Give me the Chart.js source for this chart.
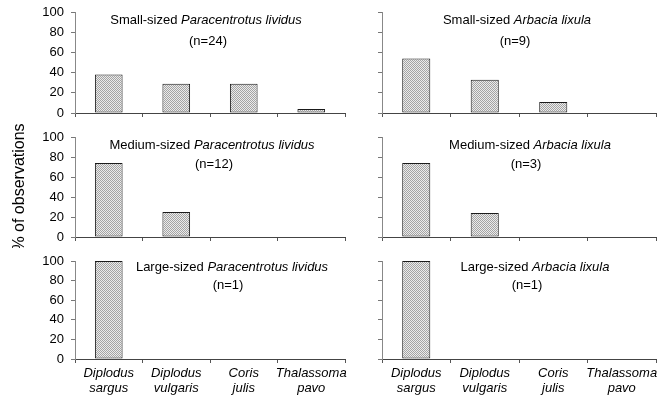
<!DOCTYPE html>
<html>
<head>
<meta charset="utf-8">
<script src="https://cdn.jsdelivr.net/npm/chart.js@4/dist/chart.umd.min.js"></script>
<style>
  html, body { margin: 0; padding: 0; background: #fff; }
  #wrap { position: relative; width: 666px; height: 401px; overflow: hidden; }
  canvas { position: absolute; }
</style>
</head>
<body>
<div id="wrap">
  <canvas id="c1"></canvas>
  <canvas id="c2"></canvas>
  <canvas id="c3"></canvas>
  <canvas id="c4"></canvas>
  <canvas id="c5"></canvas>
  <canvas id="c6"></canvas>
</div>
<script>
// 魚種（カテゴリ）
const categories = [['Diplodus', 'sargus'], ['Diplodus', 'vulgaris'], ['Coris', 'julis'], ['Thalassoma', 'pavo']];
const yTicks = [0, 20, 40, 60, 80, 100];

// 観察割合（%）
const smallParacentrotus = [38, 29, 29, 4];
const smallArbacia = [54, 33, 11, 0];
const mediumParacentrotus = [74, 25, 0, 0];
const mediumArbacia = [74, 24, 0, 0];
const largeParacentrotus = [100, 0, 0, 0];
const largeArbacia = [100, 0, 0, 0];

// ハッチング模様
function makePattern() {
    const p = document.createElement('canvas');
    p.width = 2; p.height = 2;
    const g = p.getContext('2d');
    g.fillStyle = '#ebebeb';
    g.fillRect(0, 0, 2, 2);
    g.fillStyle = '#a4a4a4';
    g.fillRect(0, 0, 1, 1);
    g.fillRect(1, 1, 1, 1);
    return g.createPattern(p, 'repeat');
}
const hatch = makePattern();

// パネルタイトル（斜体混在）
const panelTitle = {
    id: 'panelTitle',
    afterDraw(chart, args, opts) {
        const ctx = chart.ctx;
        const top = chart.chartArea.top;
        const normal = '13px "Liberation Sans", Arial, sans-serif';
        const italic = 'italic 13px "Liberation Sans", Arial, sans-serif';
        ctx.save();
        ctx.fillStyle = '#000';
        ctx.textBaseline = 'middle';
        ctx.textAlign = 'left';
        ctx.font = normal;
        const w1 = ctx.measureText(opts.prefix).width;
        ctx.font = italic;
        const w2 = ctx.measureText(opts.species).width;
        let x = opts.x - chart.canvas.offsetLeft - (w1 + w2) / 2;
        ctx.font = normal;
        ctx.fillText(opts.prefix, x, top + opts.dy1);
        ctx.font = italic;
        ctx.fillText(opts.species, x + w1, top + opts.dy1);
        ctx.font = normal;
        ctx.textAlign = 'center';
        ctx.fillText(opts.n, opts.nx - chart.canvas.offsetLeft, top + opts.dy2);
        ctx.restore();
    }
};

function makePanel(id, cfg) {
    const canvas = document.getElementById(id);
    canvas.style.left = cfg.left + 'px';
    canvas.style.top = cfg.top + 'px';
    canvas.style.width = cfg.width + 'px';
    canvas.style.height = cfg.height + 'px';
    canvas.width = cfg.width;
    canvas.height = cfg.height;

    new Chart(canvas.getContext('2d'), {
        type: 'bar',
        data: {
            labels: categories,
            datasets: [{
                data: cfg.data,
                backgroundColor: hatch,
                borderColor: '#1a1a1a',
                borderWidth: 1,
                borderSkipped: false,
                barPercentage: 0.41,
                categoryPercentage: 1
            }]
        },
        plugins: [panelTitle],
        options: {
            responsive: false,
            animation: false,
            devicePixelRatio: 1,
            layout: { padding: { top: cfg.padTop, right: cfg.padRight, left: 0, bottom: 0 } },
            plugins: {
                legend: { display: false },
                tooltip: { enabled: false },
                panelTitle: cfg.title
            },
            scales: {
                x: {
                    grid: { display: true, drawOnChartArea: false, drawTicks: true, tickLength: 4, color: '#555', offset: true },
                    border: { display: true, color: '#444', width: 1 },
                    ticks: {
                        display: cfg.showX,
                        padding: 3,
                        maxRotation: 0,
                        autoSkip: false,
                        color: '#000',
                        font: { family: '"Liberation Sans", Arial, sans-serif', size: 13, style: 'italic', lineHeight: 1.15 }
                    },
                    afterFit(scale) { scale.height = cfg.xHeight; }
                },
                y: {
                    min: 0,
                    max: 100,
                    afterBuildTicks(scale) { scale.ticks = yTicks.map(v => ({ value: v })); },
                    grid: { display: true, drawOnChartArea: false, drawTicks: true, tickLength: 4, color: '#777' },
                    border: { display: true, color: '#888', width: 1 },
                    ticks: {
                        display: cfg.showY,
                        padding: 7,
                        color: '#000',
                        font: { family: '"Liberation Sans", Arial, sans-serif', size: 13, lineHeight: 0.5 }
                    },
                    title: {
                        display: !!cfg.yTitle,
                        text: cfg.yTitle || '',
                        color: '#000',
                        padding: { top: 10, bottom: 0 },
                        font: { family: '"Liberation Sans", Arial, sans-serif', size: 16 }
                    },
                    afterFit(scale) { scale.width = cfg.yWidth; }
                }
            }
        }
    });
}

const leftCol = { left: 0, width: 360, yWidth: 75, padRight: 15, showY: true };
const rightCol = { left: 340, width: 326, yWidth: 42, padRight: 10, showY: false };
const row1 = { top: 0, height: 124, padTop: 12, xHeight: 11, showX: false };
const row2 = { top: 124, height: 124, padTop: 13, xHeight: 11, showX: false };
const row3 = { top: 248, height: 153, padTop: 13, xHeight: 42, showX: true };

makePanel('c1', Object.assign({}, leftCol, row1, {
    data: smallParacentrotus,
    title: { prefix: 'Small-sized ', species: 'Paracentrotus lividus', n: '(n=24)', x: 206, nx: 208, dy1: 8.5, dy2: 29.5 }
}));
makePanel('c2', Object.assign({}, rightCol, row1, {
    data: smallArbacia,
    title: { prefix: 'Small-sized ', species: 'Arbacia lixula', n: '(n=9)', x: 517, nx: 515, dy1: 8.5, dy2: 29.5 }
}));
makePanel('c3', Object.assign({}, leftCol, row2, {
    data: mediumParacentrotus,
    yTitle: '% of observations',
    title: { prefix: 'Medium-sized ', species: 'Paracentrotus lividus', n: '(n=12)', x: 212, nx: 214, dy1: 8, dy2: 27 }
}));
makePanel('c4', Object.assign({}, rightCol, row2, {
    data: mediumArbacia,
    title: { prefix: 'Medium-sized ', species: 'Arbacia lixula', n: '(n=3)', x: 530, nx: 526, dy1: 8, dy2: 27 }
}));
makePanel('c5', Object.assign({}, leftCol, row3, {
    data: largeParacentrotus,
    title: { prefix: 'Large-sized ', species: 'Paracentrotus lividus', n: '(n=1)', x: 232, nx: 228, dy1: 6, dy2: 24 }
}));
makePanel('c6', Object.assign({}, rightCol, row3, {
    data: largeArbacia,
    title: { prefix: 'Large-sized ', species: 'Arbacia lixula', n: '(n=1)', x: 535, nx: 527, dy1: 6, dy2: 24 }
}));
</script>
</body>
</html>
